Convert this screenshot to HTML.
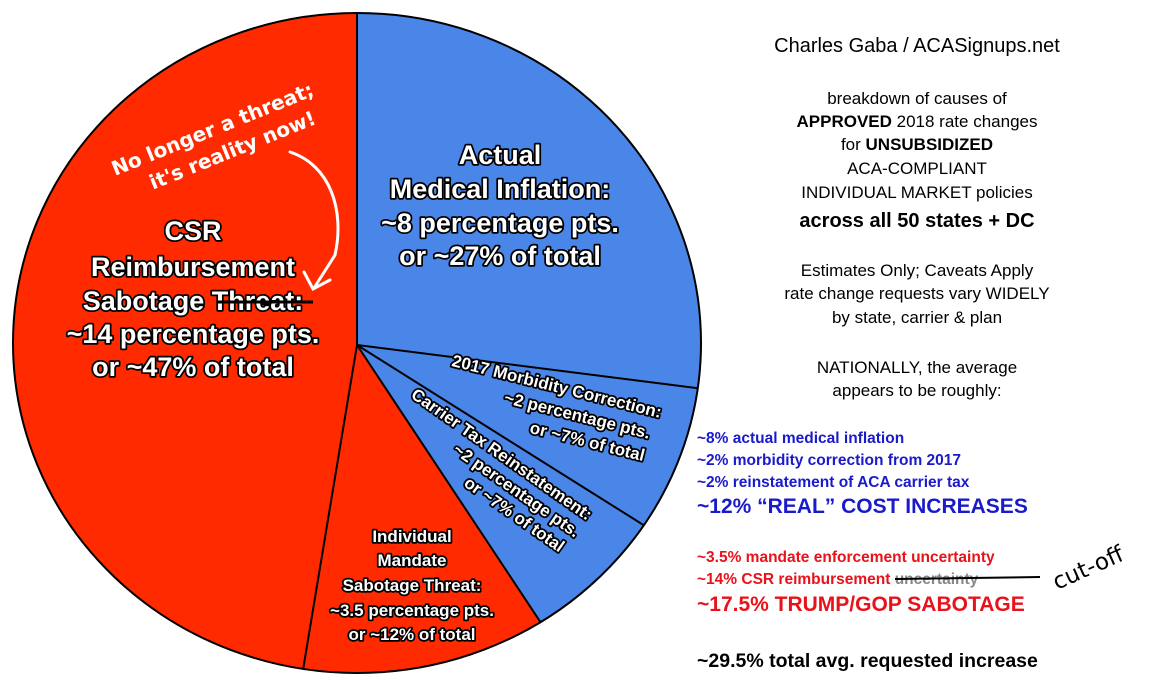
<!DOCTYPE html>
<html><head><meta charset="utf-8"><style>
html,body{margin:0;padding:0;background:#fff;}
svg{display:block;font-family:"Liberation Sans",sans-serif;}
.w{fill:#fff;stroke:#000;stroke-width:3.5;paint-order:stroke;stroke-linejoin:round;font-weight:bold;}
</style></head><body>
<svg width="1150" height="700" viewBox="0 0 1150 700">
<defs><clipPath id="c"><ellipse cx="357" cy="343" rx="344" ry="330"/></clipPath></defs>
<rect width="1150" height="700" fill="#fff"/>
<g clip-path="url(#c)">
<rect x="0" y="0" width="710" height="700" fill="#ff2a00"/>
<polygon points="357,345 357,-10 720,-10 720,700 592,700" fill="#4a86e8"/>
<g stroke="#000" stroke-width="2">
<line x1="357" y1="345" x2="357" y2="0"/>
<line x1="357" y1="345" x2="720" y2="391"/>
<line x1="357" y1="345" x2="680" y2="548"/>
<line x1="357" y1="345" x2="592" y2="700"/>
<line x1="357" y1="345" x2="298" y2="700"/>
</g>
</g>
<ellipse cx="357" cy="343" rx="344" ry="330" fill="none" stroke="#000" stroke-width="2"/>
<g class="w" text-anchor="middle" font-size="27">
<text x="500" y="164">Actual</text>
<text x="500" y="198">Medical Inflation:</text>
<text x="500" y="232">~8 percentage pts.</text>
<text x="500" y="265">or ~27% of total</text>
<text x="193" y="240">CSR</text>
<text x="193" y="276">Reimbursement</text>
<text x="193" y="310">Sabotage Threat:</text>
<text x="193" y="343">~14 percentage pts.</text>
<text x="193" y="376">or ~47% of total</text>
</g>
<line x1="218" y1="302" x2="313" y2="302" stroke="#000" stroke-width="3"/>
<g class="w" text-anchor="middle" font-size="17" stroke-width="3">
<text x="412" y="542">Individual</text>
<text x="412" y="566">Mandate</text>
<text x="412" y="591">Sabotage Threat:</text>
<text x="412" y="616">~3.5 percentage pts.</text>
<text x="412" y="640">or ~12% of total</text>
</g>
<g class="w" font-size="17" stroke-width="3" text-anchor="end" transform="translate(660,418) rotate(14)">
<text x="0" y="0">2017 Morbidity Correction:</text>
<text x="-6" y="23">~2 percentage pts.</text>
<text x="-6" y="46">or ~7% of total</text>
</g>
<g class="w" font-size="17" stroke-width="3" transform="translate(410,397) rotate(35)">
<text x="0" y="0">Carrier Tax Reinstatement:</text>
<text x="66" y="21">~2 percentage pts.</text>
<text x="94" y="42">or ~7% of total</text>
</g>
<g fill="#fff" font-family="'DejaVu Sans',sans-serif" font-size="20" font-weight="bold" transform="translate(115,176) rotate(-22)">
<text x="0" y="0">No longer a threat;</text>
<text x="30" y="27">it's reality now!</text>
</g>
<path d="M290,152 C330,165 345,210 335,255 L314,288 M304,272 L313,289 L330,280" fill="none" stroke="#fff" stroke-width="3" stroke-linecap="round"/>
<g text-anchor="middle" font-size="17" fill="#000">
<text x="917" y="52" font-size="20">Charles Gaba / ACASignups.net</text>
<text x="917" y="104">breakdown of causes of</text>
<text x="917" y="127"><tspan font-weight="900">APPROVED</tspan> 2018 rate changes</text>
<text x="917" y="150">for <tspan font-weight="900">UNSUBSIDIZED</tspan></text>
<text x="917" y="174">ACA-COMPLIANT</text>
<text x="917" y="198">INDIVIDUAL MARKET policies</text>
<text x="917" y="227" font-size="20" font-weight="bold">across all 50 states + DC</text>
<text x="917" y="276">Estimates Only; Caveats Apply</text>
<text x="917" y="299">rate change requests vary WIDELY</text>
<text x="917" y="323">by state, carrier &amp; plan</text>
<text x="917" y="373">NATIONALLY, the average</text>
<text x="917" y="396">appears to be roughly:</text>
</g>
<g font-weight="bold" font-size="15.5">
<text x="697" y="443" fill="#1a1acc">~8% actual medical inflation</text>
<text x="697" y="465" fill="#1a1acc">~2% morbidity correction from 2017</text>
<text x="697" y="487" fill="#1a1acc">~2% reinstatement of ACA carrier tax</text>
<text x="697" y="513" fill="#1a1acc" font-size="21">~12% “REAL” COST INCREASES</text>
<text x="697" y="562" fill="#e8121a">~3.5% mandate enforcement uncertainty</text>
<text x="697" y="584" fill="#e8121a">~14% CSR reimbursement <tspan fill="#888">uncertainty</tspan></text>
<text x="697" y="611" fill="#e8121a" font-size="21">~17.5% TRUMP/GOP SABOTAGE</text>
<text x="697" y="667" fill="#000" font-size="19.5">~29.5% total avg. requested increase</text>
</g>
<line x1="895" y1="579" x2="1040" y2="577" stroke="#000" stroke-width="2"/>
<text transform="translate(1057,590) rotate(-24)" font-family="'DejaVu Sans',sans-serif" font-size="23" fill="#000">cut-off</text>
</svg>
</body></html>
